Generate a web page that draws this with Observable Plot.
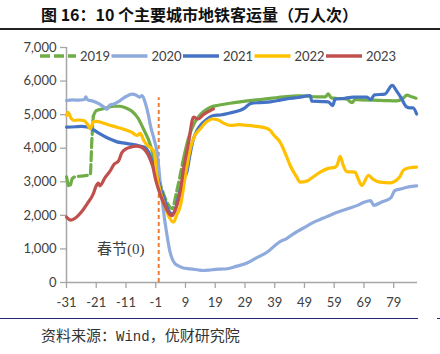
<!DOCTYPE html>
<html><head><meta charset="utf-8">
<script src="https://cdn.jsdelivr.net/npm/d3@7"></script>
<script src="https://cdn.jsdelivr.net/npm/@observablehq/plot@0.6"></script>
<style>
body{margin:0;background:#fff;width:440px;height:354px;position:relative;overflow:hidden;font-family:Lato,sans-serif}
#title{position:absolute;left:0;top:0;width:440px;height:28px;border-bottom:2px solid #222}
#title span{position:absolute;left:41px;top:0;line-height:29px;font-family:"Noto Sans CJK SC";font-weight:700;font-size:16px;color:#111;white-space:nowrap}
#chart{position:absolute;left:0;top:30px}
#legend{position:absolute;left:0;top:30px;pointer-events:none}
#rule{position:absolute;top:318px;left:0;width:418px;border-top:1.5px solid #262673}
#rule2{position:absolute;top:318px;left:437px;width:3px;border-top:1.5px solid #262673}
#caption{position:absolute;left:41px;top:326px;line-height:18px;font-family:"Noto Sans CJK SC";font-size:15px;color:#333;white-space:nowrap}
#caption .m{font-family:"Liberation Mono";font-size:14px}
</style></head>
<body>
<div id="title"><span>图 16：10 个主要城市地铁客运量（万人次）</span></div>
<div id="chart"></div>
<div id="rule"></div><div id="rule2"></div>
<div id="caption">资料来源：<span class="m">Wind</span>，优财研究院</div>
<script>
// ---------- data ----------
const seriesNames = ["2019","2020","2021","2022","2023"];
const seriesColors = ["#70AD47","#8FAADC","#4472C4","#FFC000","#C0504D"];

const days2019 = [-31,-30,-29,-28,-26,-24,-23,-22.5,-22,-21,-19,-17,-15,-13,-11,-9,-7,-5,-3,-1,0,1,2,3,4.5,6,7,8,9,10,12,14,16,18,20,24,28,32,36,40,43,47,50,53,56,57,58,60,63,65,66,68,72,76,80,82,83.5,85,86.5];
const vals2019 = [3150,2850,3100,3150,3170,3190,3220,4200,4950,5120,5170,5220,5250,5250,5200,5100,4900,4550,4150,3500,3090,2800,2550,2350,2200,2700,3100,3550,3950,4300,4750,5000,5150,5240,5280,5340,5390,5430,5470,5510,5540,5560,5550,5530,5530,5620,5500,5480,5470,5360,5450,5440,5430,5420,5410,5480,5580,5530,5490];
const dashed2019 = [[-31,-21.5],[0,8]];

const days2020 = [-31,-29,-27,-25,-24.5,-24,-22,-20,-18,-17.3,-16.5,-15,-13,-11,-9,-7.5,-6.5,-5.6,-4.5,-3.5,-2.8,-1.5,-0.5,0.6,1.5,2.8,3.7,4.5,5.5,6.5,8,10.6,13,15,17,19,21,23,26,29.7,33,36.4,40.8,43,45.3,49.8,52,55.4,58,61,64,66.6,69,71.2,72.3,75,78,79.4,82,84,86.7];
const vals2020 = [5420,5440,5430,5450,5530,5450,5400,5320,5200,5160,5280,5320,5420,5540,5610,5580,5520,5570,5350,5000,4680,4250,3850,2890,2200,1400,950,715,560,500,440,408,380,357,370,390,400,410,480,580,740,900,1220,1310,1450,1680,1790,1920,2020,2120,2210,2290,2390,2440,2300,2400,2520,2740,2800,2850,2880];

const days2021 = [-31,-28,-26,-24,-22,-20,-18,-16,-14,-12,-10,-8,-6,-4.5,-3.5,-2.5,-1,0,1,2,3,4.5,5.5,7,8.5,9.5,10.5,11.7,13,14,16,18.4,20.7,24,27.4,29,30.8,34,37.5,40,43,47,50.9,51.5,55,57,58.5,59.3,62,65.5,70,71.3,72.5,76,78.5,80,81.5,83.3,84.5,85.5,86.7];
const vals2021 = [4630,4640,4650,4630,4550,4440,4340,4260,4190,4160,4130,4100,4060,4030,3900,3700,3300,3000,2700,2450,2200,2045,2150,2700,3100,3300,3800,4280,4550,4680,4850,4975,4990,5050,5130,5200,5330,5360,5380,5420,5470,5510,5570,5400,5390,5380,5270,5460,5480,5520,5520,5450,5590,5610,5870,5700,5500,5230,5200,5200,5020];

const days2022 = [-31,-30.5,-29.5,-28.5,-27,-25.2,-24,-23,-22,-21,-19,-17,-15,-13,-11,-9,-7.3,-6.2,-5,-4,-2.5,-1.5,-0.6,0.5,2,3.5,5,6,7.3,9,10.6,12,14,16,18,20,22,24,27,29.7,32,35.2,37.5,38.6,40.8,43,44.2,46.4,47.5,49.8,52,54.3,57,59.3,60,61,62,63.2,66,67,68.3,70.5,72,74.4,77.8,81,82.2,84,86.7];
const vals2022 = [4975,5070,4900,4825,4840,4825,4720,4580,4780,4800,4760,4700,4650,4600,4540,4470,4380,4440,4230,4100,4000,3880,3190,2700,2300,1950,1800,2000,2290,3200,3980,4350,4580,4780,4870,4840,4740,4680,4700,4680,4660,4620,4530,4400,4180,3750,3485,3140,2990,3020,3150,3290,3400,3435,3500,3760,3500,3305,3290,3100,2890,3190,3080,2990,2970,3140,3340,3410,3435];

const days2023 = [-31,-29.5,-28,-26,-24,-22,-21,-20.3,-19.8,-18,-16.5,-15,-13.5,-12.5,-11,-9.5,-7.5,-6,-4.5,-3,-2,-1,0.5,2,3.5,4.5,5.5,7,8.4,10,11.7,13.2,15,16.5,18.4];
const vals2023 = [1950,1860,1920,2100,2350,2640,2880,2960,2880,3130,3300,3520,3620,3850,3980,4030,4060,4040,3930,3700,3450,3050,2620,2300,2050,1990,2150,2600,3400,4150,4925,4870,5000,5080,5170];

const xTicks = [-31,-21,-11,-1,9,19,29,39,49,59,69,79];
const yTicks = [0,1000,2000,3000,4000,5000,6000,7000];
const springFestival = [{day:0, top:5500}];
const annotation = [{day:-12.8, value:1000, text:"春节(0)"}];

// ---------- build ----------
const allDays = [days2019,days2020,days2021,days2022,days2023];
const allVals = [vals2019,vals2020,vals2021,vals2022,vals2023];
const rowsOf = i => allDays[i].map((d,j)=>({day:d, value:allVals[i][j]}));

// split 2019 into solid and dashed segments
function segments(rows, ranges){
  const isDash = m => ranges.some(([a,b]) => m >= a && m < b);
  const out = []; let seg = 0, cur = null;
  for(let j=0;j<rows.length-1;j++){
    const m = (rows[j].day+rows[j+1].day)/2, dash = isDash(m);
    if(cur===null || cur!==dash){ seg++; cur=dash; out.push({...rows[j], seg, dash}); }
    out.push({...rows[j+1], seg, dash});
  }
  return out;
}
const r2019 = segments(rowsOf(0), dashed2019);

const lw = 3.2;
const lineMarks = [];
lineMarks.push(Plot.line(r2019.filter(d=>!d.dash),{x:"day",y:"value",z:"seg",stroke:seriesColors[0],strokeWidth:lw,curve:"monotone-x",strokeLinejoin:"round"}));
lineMarks.push(Plot.line(r2019.filter(d=>d.dash),{x:"day",y:"value",z:"seg",stroke:seriesColors[0],strokeWidth:lw,curve:"monotone-x",strokeDasharray:"9,4"}));
for(let i=1;i<5;i++){
  lineMarks.push(Plot.line(rowsOf(i),{x:"day",y:"value",stroke:seriesColors[i],strokeWidth:lw,curve:"monotone-x",strokeLinejoin:"round"}));
}

const axisColor = "#a6a6a6", textColor = "#404040";
const chart = Plot.plot({
  width:440, height:288,
  marginTop:17, marginBottom:36, marginLeft:66, marginRight:23,
  x:{domain:[-31,87], label:null},
  y:{domain:[0,7000], label:null},
  style:{fontFamily:"Lato", fontSize:"13px", color:textColor, background:"transparent"},
  marks:[
    Plot.axisY(yTicks,{tickFormat:d3.format(","), tickSize:6, tickPadding:4, stroke:axisColor, fill:textColor, label:null, strokeWidth:1.3}),
    Plot.axisX(xTicks,{tickFormat:d=>String(d), tickSize:6, tickPadding:9, stroke:axisColor, fill:textColor, label:null, strokeWidth:1.3}),
    Plot.ruleX([-31],{stroke:axisColor, strokeWidth:1.5}),
    Plot.ruleY([0],{stroke:axisColor, strokeWidth:1.5}),
    Plot.ruleX(springFestival,{x:"day", y1:()=>0, y2:"top", stroke:"#ED7D31", strokeWidth:2, strokeDasharray:"4,3"}),
    ...lineMarks,
    Plot.text(annotation,{x:"day", y:"value", text:"text", fontSize:15, fontFamily:"Liberation Serif, Noto Sans CJK SC", fill:textColor})
  ]
});
document.getElementById("chart").appendChild(chart);

// ---------- legend (overlay) ----------
const ns = "http://www.w3.org/2000/svg";
const leg = document.createElementNS(ns,"svg");
leg.setAttribute("id","legend"); leg.setAttribute("width",440); leg.setAttribute("height",40);
const legY = 26, legStart = 40, legStep = 71.5, swatch = 36;
seriesNames.forEach((name,i)=>{
  const x0 = legStart + i*legStep;
  const ln = document.createElementNS(ns,"line");
  ln.setAttribute("x1",x0); ln.setAttribute("x2",x0+swatch);
  ln.setAttribute("y1",legY); ln.setAttribute("y2",legY);
  ln.setAttribute("stroke",seriesColors[i]); ln.setAttribute("stroke-width",3.5);
  if(i===0) ln.setAttribute("stroke-dasharray","10,4");
  leg.appendChild(ln);
  const t = document.createElementNS(ns,"text");
  t.setAttribute("x",x0+swatch+4); t.setAttribute("y",legY); t.setAttribute("dy","0.35em");
  t.setAttribute("font-family","Lato"); t.setAttribute("font-size","13px"); t.setAttribute("fill",textColor);
  t.textContent = name;
  leg.appendChild(t);
});
document.body.appendChild(leg);
</script>
</body></html>
